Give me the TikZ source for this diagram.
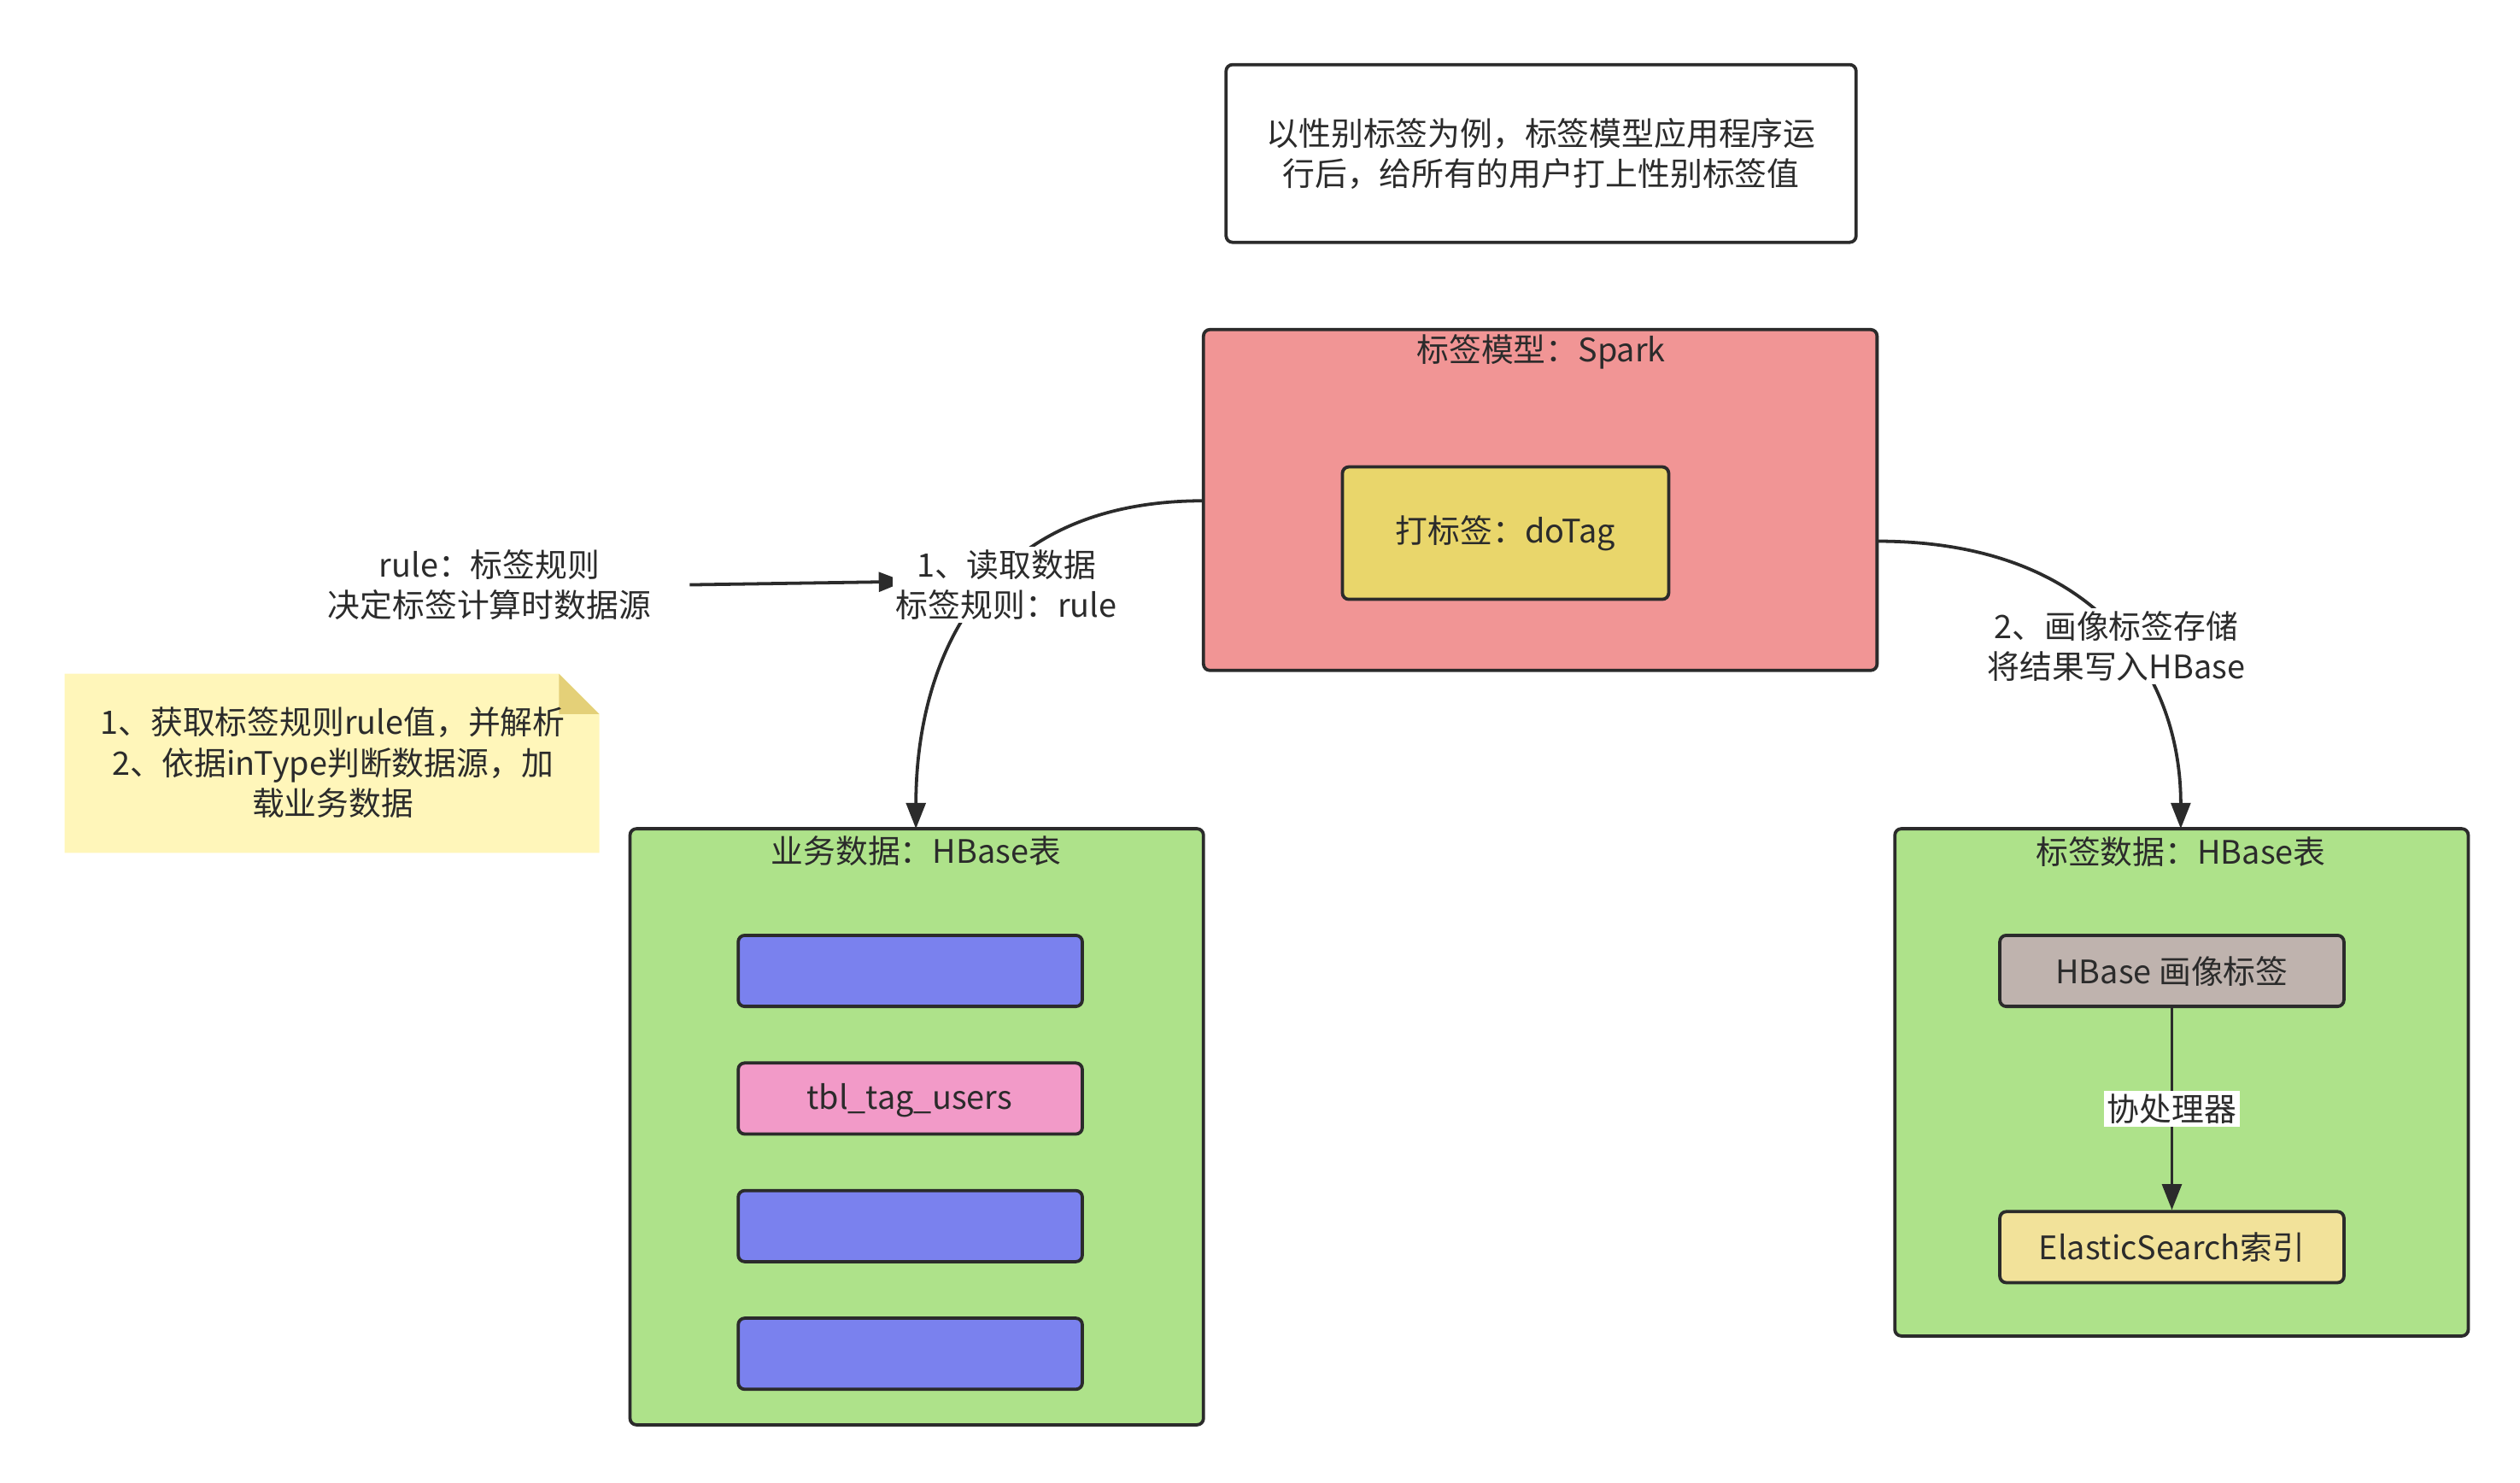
\documentclass[tikz,border=0pt]{standalone}
\usepackage{fontspec}
\setmainfont{Noto Sans CJK SC}
\usetikzlibrary{arrows.meta}
\definecolor{ln}{HTML}{2B2B2B}
\tikzset{
  x=0.5pt,y=-0.5pt,
  every node/.style={font=\fontsize{10}{12.5}\selectfont,text=ln},
  box/.style={draw=ln,line width=1pt,rounded corners=2pt},
  con/.style={draw=ln,line width=1pt,-{Triangle[width=6pt,length=8pt]}},
  lab/.style={fill=white,align=center,inner sep=1pt}
}
\begin{document}
\begin{tikzpicture}
\useasboundingbox (0,0) rectangle (1560,918);
% top note
\draw[box,fill=white] (759,40) rectangle (1149,150);
\node[align=center] (note) at (954,95) {以性别标签为例，标签模型应用程序运\\行后，给所有的用户打上性别标签值};
% spark
\draw[box,fill={rgb,255:red,241;green,149;blue,149}] (745,204) rectangle (1162,415);
\node (sparkt) at (954,218) {标签模型：Spark};
\coordinate (spark) at (954,310);
\draw[box,fill={rgb,255:red,233;green,214;blue,107}] (831,289) rectangle (1033,371);
\node (dotag) at (932,330) {打标签：doTag};
% left text
\node[align=center] (rule) at (303,362) {rule：标签规则\\决定标签计算时数据源};
% yellow note
\fill[fill={rgb,255:red,255;green,246;blue,186}] (40,417) -- (346,417) -- (371,442) -- (371,528) -- (40,528) -- cycle;
\fill[fill={rgb,255:red,228;green,208;blue,120}] (346,417) -- (371,442) -- (346,442) -- cycle;
\node[align=center] (yn) at (206,472) {1、获取标签规则rule值，并解析\\2、依据inType判断数据源，加\\载业务数据};
% business box
\draw[box,fill={rgb,255:red,174;green,226;blue,138}] (390,513) rectangle (745,882);
\node (bizt) at (567,527) {业务数据：HBase表};
\coordinate (biz) at (567,513);
\draw[box,fill={rgb,255:red,122;green,129;blue,238}] (457,579) rectangle (670,623);
\draw[box,fill={rgb,255:red,242;green,154;blue,200}] (457,658) rectangle (670,702);
\node (tbl) at (563,681) {tbl\_tag\_users};
\draw[box,fill={rgb,255:red,122;green,129;blue,238}] (457,737) rectangle (670,781);
\draw[box,fill={rgb,255:red,122;green,129;blue,238}] (457,816) rectangle (670,860);
% right box
\draw[box,fill={rgb,255:red,174;green,226;blue,138}] (1173,513) rectangle (1528,827);
\node (tagt) at (1350,527) {标签数据：HBase表};
\coordinate (tag) at (1350,513);
\node[box,fill={rgb,255:red,191;green,179;blue,174},minimum width=106.5pt,minimum height=22pt,inner sep=0pt] (hb) at (1344.5,601) {HBase 画像标签};
\node[box,fill={rgb,255:red,242;green,226;blue,154},minimum width=106.5pt,minimum height=22pt,inner sep=0pt] (es) at (1344.5,772) {ElasticSearch索引};
\draw[con] (hb) -- node[lab]{协处理器} (es);
% connectors
\coordinate (sl) at (745,310);
\coordinate (sr) at (1162,335);
\coordinate (rl) at (427,362);
\coordinate (ra) at (560,360);
\draw[con] (rl) -- (ra);
\draw[con] (sl) .. controls (600,310) and (567,420) .. (biz);
\node[lab] (l1) at (623,362) {1、读取数据\\标签规则：rule};
\draw[con] (sr) .. controls (1300,335) and (1350,420) .. (tag);
\node[lab] (l2) at (1310,400) {2、画像标签存储\\将结果写入HBase};
\end{tikzpicture}
\end{document}
